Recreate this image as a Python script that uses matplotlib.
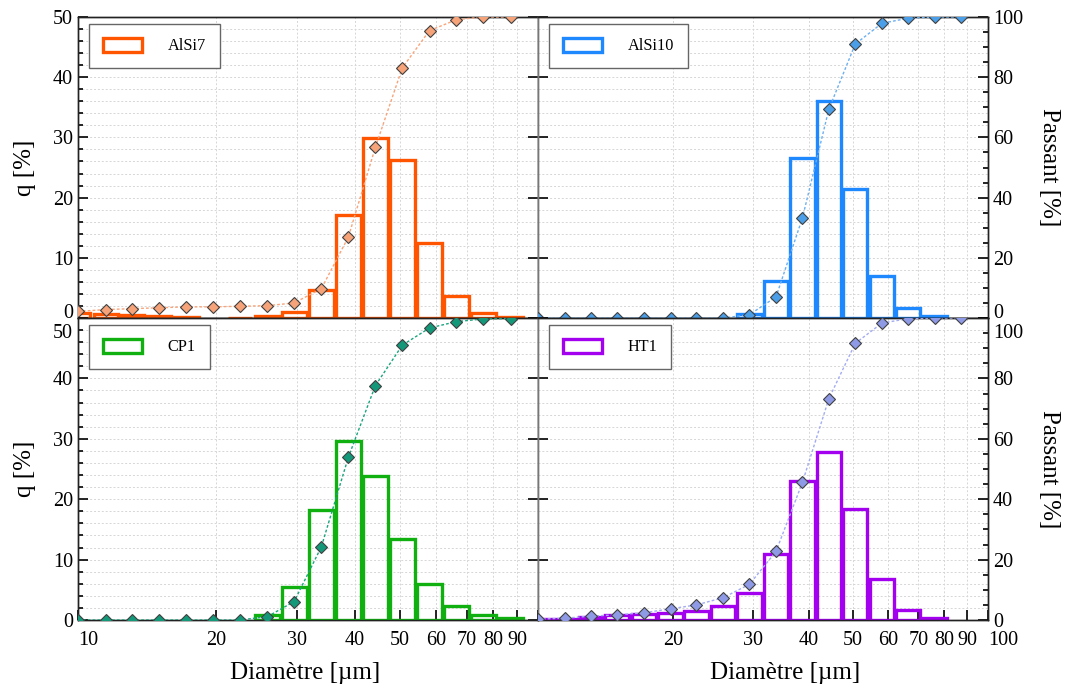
import numpy as np
import matplotlib
matplotlib.use("Agg")
import matplotlib.pyplot as plt
from matplotlib.patches import Patch
from matplotlib.ticker import MultipleLocator, NullLocator
from matplotlib.transforms import ScaledTranslation

plt.rcParams['font.family'] = ['Liberation Serif', 'DejaVu Serif']

# Classes de diamètre (µm)
diametre = [10.0, 11.5, 13.1, 15.0, 17.2, 19.7, 22.5, 25.8, 29.5,
            33.8, 38.7, 44.3, 50.7, 58.1, 66.5, 76.1, 87.2]

# q [%] par classe et passant cumulé [%]
q_alsi7 = [0.8, 0.7, 0.45, 0.3, 0.1, 0.0, 0.05, 0.3, 1.0,
           4.7, 17.1, 29.9, 26.3, 12.4, 3.7, 0.8, 0.1]
passant_alsi7 = [2.2, 2.8, 3.1, 3.4, 3.7, 3.7, 3.9, 4.1, 5.0,
                 9.7, 26.9, 56.7, 83.1, 95.5, 99.1, 100, 100]

q_alsi10 = [0, 0, 0, 0, 0, 0, 0, 0, 0.7,
            6.2, 26.5, 36.0, 21.5, 7.0, 1.6, 0.3, 0.0]
passant_alsi10 = [0, 0, 0, 0, 0, 0, 0, 0, 1.1,
                  7.0, 33.3, 69.4, 91.0, 97.9, 99.6, 100, 100]

q_cp1 = [0, 0, 0, 0, 0, 0, 0, 0.9, 5.4,
         18.2, 29.6, 23.8, 13.4, 5.9, 2.3, 0.8, 0.3]
passant_cp1 = [0, 0, 0, 0, 0, 0, 0, 1.1, 6.1,
               24.2, 53.9, 77.6, 91.0, 96.7, 98.8, 99.7, 99.8]

q_ht1 = [0.1, 0.15, 0.45, 0.8, 1.0, 1.2, 1.5, 2.4, 4.5,
         10.9, 23.0, 27.8, 18.3, 6.8, 1.7, 0.3, 0.0]
passant_ht1 = [0.3, 0.6, 1.3, 1.7, 2.4, 3.7, 5.0, 7.4, 11.8,
               22.7, 45.6, 73.3, 91.6, 98.3, 99.8, 100, 100]

xticks = [10, 20, 30, 40, 50, 60, 70, 80, 90, 100]

# (nom, q, passant, couleur barre, couleur marqueur, couleur ligne)
panels = [
    ('AlSi7', q_alsi7, passant_alsi7, '#FF5500', '#F6A379', '#F9A47A'),
    ('AlSi10', q_alsi10, passant_alsi10, '#1E88FF', '#4B9FE8', '#6DB0F0'),
    ('CP1', q_cp1, passant_cp1, '#10B010', '#14987A', '#1AA57E'),
    ('HT1', q_ht1, passant_ht1, '#A300F0', '#8E9AE6', '#A3ACF2'),
]

W, H = 1070, 691
fig = plt.figure(figsize=(W / 100, H / 100), dpi=100)
xl, xm, xr = 78 / W, 538 / W, 988 / W
yt, ym, yb = 1 - 17 / H, 1 - 318 / H, 1 - 620 / H
boxes = [
    [xl, ym, xm - xl, yt - ym],
    [xm, ym, xr - xm, yt - ym],
    [xl, yb, xm - xl, ym - yb],
    [xm, yb, xr - xm, ym - yb],
]


def shift_label(label, dy_px):
    # décale une étiquette de graduation verticalement (pixels)
    label.set_transform(label.get_transform()
                        + ScaledTranslation(0, dy_px / 100, fig.dpi_scale_trans))


d = np.array(diametre)
for i, (nom, q, passant, cbar, cmark, cline) in enumerate(panels):
    row, col = divmod(i, 2)
    ax = fig.add_axes(boxes[i])
    ax.set_xscale('log')
    ax.set_xlim(10, 100)
    ax.set_ylim(0, 50)

    # barres creuses, largeur en échelle log
    q = np.array(q)
    m = q > 0
    lo, hi = d[m] / 1.064, d[m] * 1.064
    ax.bar(lo, q[m], width=hi - lo, align='edge', fill=False,
           edgecolor=cbar, linewidth=2.4, zorder=3)

    ax.set_xticks(xticks)
    ax.xaxis.set_minor_locator(NullLocator())
    ax.set_yticks(range(0, 51, 10))
    ax.yaxis.set_minor_locator(MultipleLocator(2))
    ax.grid(which='both', color='#d6d6d6', linestyle=(0, (2, 2)), linewidth=0.7, zorder=0)
    ax.set_axisbelow(True)

    # axe du passant cumulé
    ax2 = ax.twinx()
    ax2.set_ylim(0, 100)
    ax2.plot(diametre, passant, color=cline, linestyle=(0, (2, 1.5)), linewidth=1.0,
             marker='D', markersize=6.4, markerfacecolor=cmark,
             markeredgecolor='#404040', markeredgewidth=0.8, zorder=4)

    ax.tick_params(which='both', direction='in', width=1.2, labelsize=14.5)
    ax.tick_params(which='major', length=7)
    ax.tick_params(which='minor', length=3.5)
    ax.tick_params(which='minor', right=False, bottom=False)

    if row == 0:
        ax.tick_params(bottom=False, labelbottom=False)
    else:
        if col == 0:
            labels = [str(t) for t in xticks[:-1]] + ['']
        else:
            labels = [''] + [str(t) for t in xticks[1:]]
        ax.set_xticklabels(labels)
        ax.tick_params(axis='x', pad=8)
        ticks = ax.xaxis.get_major_ticks()
        ticks[0].label1.set_ha('left')
        ticks[-1].label1.set_ha('left')
        ax.set_xlabel('Diamètre [µm]', fontsize=18)
        ax.xaxis.set_label_coords(0.494 if col == 0 else 0.549, -0.14)

    if col == 0:
        ax.tick_params(which='major', right=True, labelright=False)
        ax.set_ylabel('q [%]', fontsize=18)
        ax.yaxis.set_label_coords(-0.091, 0.5)
        ticks = ax.yaxis.get_major_ticks()
        if row == 0:
            ticks[0].label1.set_va('baseline')
        else:
            ticks[-1].label1.set_va('top')
            shift_label(ticks[-1].label1, -6)
        ax2.set_yticks([])
    else:
        ax.tick_params(which='minor', left=False)
        ax.tick_params(labelleft=False)
        ax2.set_yticks(range(0, 101, 20))
        ax2.yaxis.set_minor_locator(MultipleLocator(5))
        ax2.tick_params(which='both', direction='in', width=1.2, labelsize=14.5)
        ax2.tick_params(which='major', length=7)
        ax2.tick_params(which='minor', length=3.5)
        ax2.set_ylabel('Passant [%]', fontsize=18, rotation=270, va='center')
        ax2.yaxis.set_label_coords(1.135, 0.5)
        ticks = ax2.yaxis.get_major_ticks()
        if row == 0:
            ticks[0].label2.set_va('baseline')
        else:
            ticks[-1].label2.set_va('top')
            shift_label(ticks[-1].label2, -6)

    for a in (ax, ax2):
        for s in a.spines.values():
            s.set_color('#222222')
            s.set_linewidth(1.0)
    if col == 0:
        ax.spines['right'].set_color('#777777')
        ax2.spines['right'].set_color('#777777')
    else:
        ax.spines['left'].set_color('#777777')
        ax2.spines['left'].set_color('#777777')

    handle = Patch(facecolor='white', edgecolor=cbar, linewidth=2.4)
    leg = ax2.legend(handles=[handle], labels=[nom], loc='upper left',
                     bbox_to_anchor=(0.024, 0.977), borderaxespad=0,
                     fancybox=False, framealpha=1, edgecolor='#666666',
                     fontsize=11.7, handlelength=2.4, handleheight=0.95,
                     handletextpad=1.6, borderpad=0.85)
    leg.get_frame().set_linewidth(1.0)

fig.savefig('out.png', dpi=100)
